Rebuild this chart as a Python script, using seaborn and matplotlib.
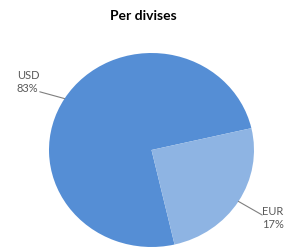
import numpy as np
import matplotlib
matplotlib.use("Agg")
import matplotlib.pyplot as plt
import seaborn as sns

sns.set_theme(style="white")
plt.rcParams['font.family'] = ['Lato', 'DejaVu Sans']

# Data
currencies = ["USD", "EUR"]
share_labels = ["83%", "17%"]          # printed values
wedge_sizes = [75, 25]                  # wedge extents as drawn in the reference
colors = ["#558ED5", "#8EB4E3"]
title = "Per divises"

W, H = 284, 247
fig = plt.figure(figsize=(W / 100, H / 100), dpi=100)
left, right, top, bottom = 49, 254, 53, 247
ax = fig.add_axes([left / W, 1 - bottom / H, (right - left) / W, (bottom - top) / H])

wedges, _ = ax.pie(wedge_sizes, colors=colors, startangle=13, counterclock=True,
                   wedgeprops=dict(linewidth=0))
ax.set_aspect('auto')
ax.set_xlim(-1, 1)
ax.set_ylim(-1, 1)
ax.axis('off')

text_pos = {"USD": (-1.09, 0.60), "EUR": (1.08, -0.67)}
for w, cur, lab in zip(wedges, currencies, share_labels):
    ang = np.deg2rad((w.theta1 + w.theta2) / 2)
    x0, y0 = np.cos(ang), np.sin(ang)
    tx, ty = text_pos[cur]
    ax.plot([x0, tx], [y0, ty], color="#7F7F7F", lw=0.8, clip_on=False)
    if tx < 0:
        ax.text(tx - 0.225, ty - 0.02, f"{cur}\n{lab}", ha="left", va="bottom",
                fontsize=8, color="#595959", linespacing=1.15, clip_on=False)
    else:
        ax.text(tx, ty - 0.03, f"{cur}\n{lab}", ha="left", va="center",
                fontsize=8, color="#595959", linespacing=1.15, clip_on=False)

fig.text(143 / W, 1 - 16 / H, title, ha="center", va="center",
         fontsize=10, fontweight="bold", color="black")

fig.savefig("out.png", dpi=100)
